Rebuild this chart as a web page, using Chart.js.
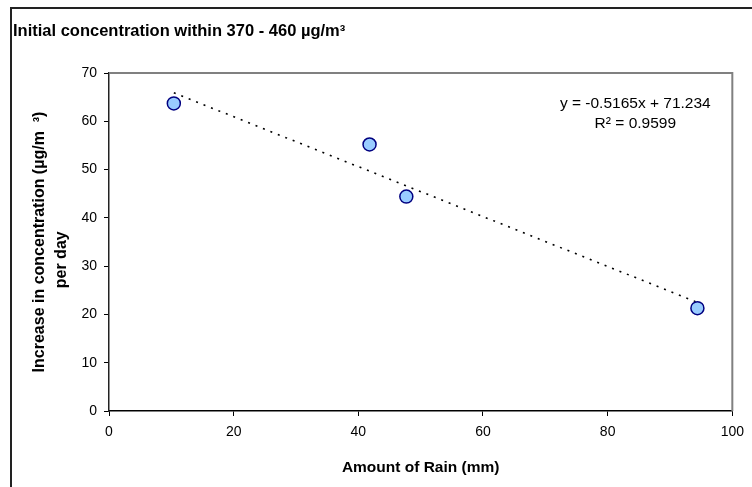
<!DOCTYPE html>
<html>
<head>
<meta charset="utf-8">
<script src="https://cdn.jsdelivr.net/npm/chart.js@4.4.1/dist/chart.umd.min.js"></script>
<style>
  html, body { margin: 0; padding: 0; background: #fff; }
  canvas { display: block; }
</style>
</head>
<body>
<canvas id="rainChart" width="752" height="487"></canvas>
<script>
  // values
  const rainMm = [10.4, 41.8, 47.7, 94.4];
  const concIncrease = [63.7, 55.2, 44.4, 21.3];

  // linear trendline end points (as drawn in the picture)
  const trendRainMm = [10.4, 94.4];
  const trendConc = [65.9, 22.5];

  const xTickValues = [0, 20, 40, 60, 80, 100];
  const yTickValues = [0, 10, 20, 30, 40, 50, 60, 70];

  const chartTitle = "Initial concentration within 370 - 460 µg/m³";
  const xTitle = "Amount of Rain (mm)";
  const yTitle = ["Increase in concentration (µg/m  ³)", "per day" + "\u00a0".repeat(8)];
  const equationLines = ["y = -0.5165x + 71.234", "R² = 0.9599"];

  const fontFamily = "'Liberation Sans', Arial, sans-serif";

  // outer frame + grey plot border + trend equation
  const decorations = {
    id: "decorations",
    beforeDatasetsDraw(chart) {
      const { ctx, chartArea } = chart;
      ctx.save();
      ctx.strokeStyle = "#808080";
      ctx.lineWidth = 2;
      ctx.beginPath();
      ctx.moveTo(chartArea.left, chartArea.top);
      ctx.lineTo(chartArea.right, chartArea.top);
      ctx.lineTo(chartArea.right, chartArea.bottom);
      ctx.stroke();
      ctx.restore();
    },
    afterDraw(chart) {
      const { ctx, chartArea } = chart;
      ctx.save();
      ctx.strokeStyle = "#222";
      ctx.lineWidth = 2;
      ctx.beginPath();
      ctx.moveTo(11, chart.height + 2);
      ctx.lineTo(11, 8);
      ctx.lineTo(chart.width + 2, 8);
      ctx.stroke();

      ctx.fillStyle = "#000";
      ctx.font = "15.5px " + fontFamily;
      ctx.textAlign = "center";
      ctx.textBaseline = "middle";
      const cx = chartArea.right - 97;
      equationLines.forEach((line, i) => {
        ctx.fillText(line, cx, chartArea.top + 31 + i * 20);
      });
      ctx.restore();
    }
  };

  function fixedTicks(values) {
    return (scale) => {
      scale.ticks = values.map((v) => ({ value: v }));
    };
  }

  new Chart(document.getElementById("rainChart"), {
    type: "scatter",
    data: {
      datasets: [
        {
          label: "Observed",
          data: rainMm.map((x, i) => ({ x, y: concIncrease[i] })),
          pointRadius: 6.5,
          pointBackgroundColor: "#99ccff",
          pointBorderColor: "#000080",
          pointBorderWidth: 1.5,
          order: 0
        },
        {
          label: "Linear trend",
          type: "line",
          data: trendRainMm.map((x, i) => ({ x, y: trendConc[i] })),
          borderColor: "#000",
          borderWidth: 1.6,
          borderDash: [2, 6],
          pointRadius: 0,
          fill: false,
          order: 1
        }
      ]
    },
    options: {
      responsive: false,
      animation: false,
      devicePixelRatio: 1,
      layout: {
        padding: { left: 13, right: 19, top: 0, bottom: 0 }
      },
      plugins: {
        legend: { display: false },
        tooltip: { enabled: false },
        title: {
          display: true,
          text: chartTitle,
          align: "start",
          color: "#000",
          font: { family: fontFamily, size: 16.5, weight: "bold" },
          padding: { top: 22, bottom: 31.2 }
        }
      },
      scales: {
        x: {
          type: "linear",
          min: 0,
          max: 100,
          afterBuildTicks: fixedTicks(xTickValues),
          afterFit(scale) { scale.height = 76; },
          grid: { display: true, drawOnChartArea: false, drawTicks: true, tickLength: 5, color: "#000" },
          border: { display: true, color: "#000", width: 1.5 },
          ticks: {
            color: "#000",
            padding: 8,
            maxRotation: 0,
            font: { family: fontFamily, size: 14 }
          },
          title: {
            display: true,
            text: xTitle,
            color: "#000",
            font: { family: fontFamily, size: 15.5, weight: "bold" },
            padding: { top: 0, bottom: 10 }
          }
        },
        y: {
          type: "linear",
          min: 0,
          max: 70,
          afterBuildTicks: fixedTicks(yTickValues),
          afterFit(scale) { scale.width = 96; },
          grid: { display: true, drawOnChartArea: false, drawTicks: true, tickLength: 5, color: "#000" },
          border: { display: true, color: "#222", width: 1.5 },
          ticks: {
            color: "#000",
            padding: 7,
            font: { family: fontFamily, size: 14 }
          },
          title: {
            display: true,
            text: yTitle,
            color: "#000",
            font: { family: fontFamily, size: 16, weight: "bold", lineHeight: 1.375 },
            padding: { top: 16, bottom: 0 }
          }
        }
      }
    },
    plugins: [decorations]
  });
</script>
</body>
</html>
